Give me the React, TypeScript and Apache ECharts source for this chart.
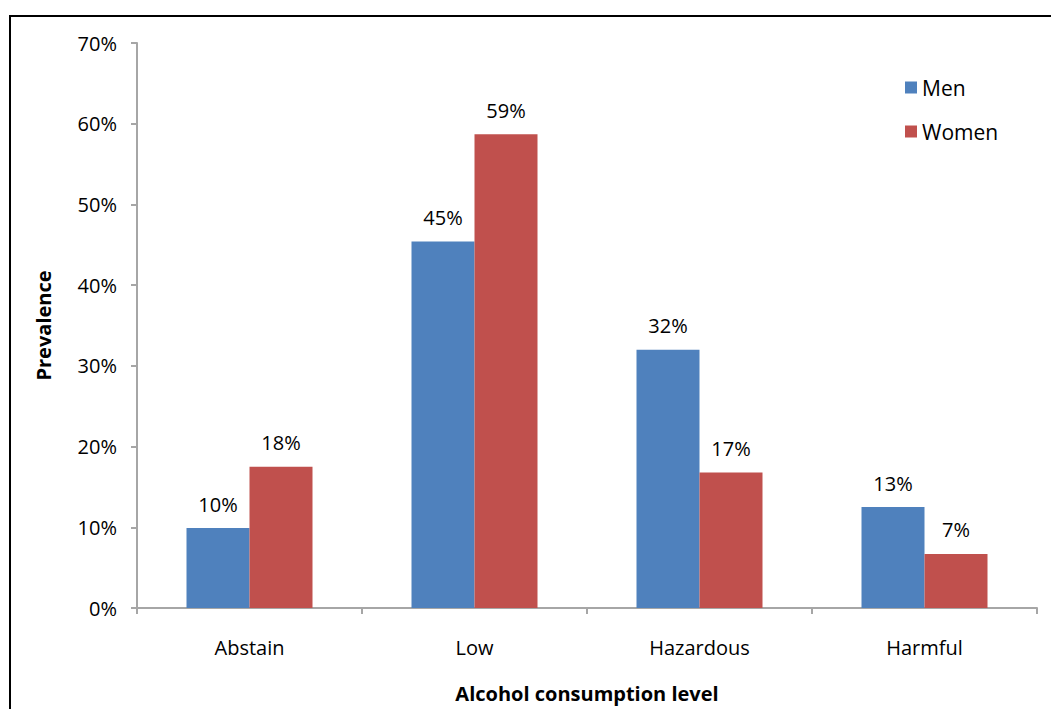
import React, { useEffect, useRef } from "react";
import * as echarts from "echarts";

const categories = ["Abstain", "Low", "Hazardous", "Harmful"];
const menValues = [9.9, 45.4, 32.0, 12.5];
const womenValues = [17.5, 58.7, 16.8, 6.7];
const yTicks = [0, 10, 20, 30, 40, 50, 60, 70];

const FONT = "'Open Sans', 'Noto Sans', sans-serif";

export default function App() {
  const ref = useRef<HTMLDivElement>(null);

  useEffect(() => {
    if (!ref.current) return;
    const chart = echarts.init(ref.current, undefined, { renderer: "svg" });
    const labelCfg = {
      show: true,
      position: "top",
      distance: 14,
      color: "#000",
      fontFamily: FONT,
      fontSize: 20,
      formatter: (p: any) => `${Math.round(p.value)}%`,
    };
    chart.setOption({
      animation: false,
      backgroundColor: "#fff",
      textStyle: { fontFamily: FONT },
      grid: { left: 137, right: 14, top: 43, bottom: 101 },
      legend: {
        orient: "vertical",
        left: 900,
        top: 72,
        itemWidth: 12,
        itemHeight: 12,
        itemGap: 23,
        icon: "rect",
        textStyle: { fontFamily: FONT, fontSize: 21, color: "#000" },
        data: ["Men", "Women"],
      },
      xAxis: {
        type: "category",
        data: categories,
        name: "Alcohol consumption level",
        nameLocation: "middle",
        nameGap: 75,
        nameTextStyle: { fontFamily: FONT, fontSize: 20, fontWeight: "bold", color: "#000" },
        axisLine: { lineStyle: { color: "#a6a6a6", width: 2 } },
        axisTick: { show: true, length: 6, lineStyle: { color: "#a6a6a6", width: 2 } },
        axisLabel: { margin: 29, fontFamily: FONT, fontSize: 20, color: "#000" },
      },
      yAxis: {
        type: "value",
        min: 0,
        max: 70,
        interval: 10,
        name: "Prevalence",
        nameLocation: "middle",
        nameGap: 84,
        nameTextStyle: { fontFamily: FONT, fontSize: 20, fontWeight: "bold", color: "#000" },
        splitLine: { show: false },
        axisLine: { show: true, lineStyle: { color: "#a6a6a6", width: 2 } },
        axisTick: { show: true, length: 6, lineStyle: { color: "#a6a6a6", width: 2 } },
        axisLabel: {
          margin: 20,
          fontFamily: FONT,
          fontSize: 20,
          color: "#000",
          formatter: (v: number) => (yTicks.includes(v) ? `${v}%` : ""),
        },
      },
      series: [
        {
          name: "Men",
          type: "bar",
          data: menValues,
          barGap: "0%",
          barCategoryGap: "44%",
          itemStyle: { color: "#4f81bd" },
          label: labelCfg,
        },
        {
          name: "Women",
          type: "bar",
          data: womenValues,
          barGap: "0%",
          barCategoryGap: "44%",
          itemStyle: { color: "#c0504d" },
          label: labelCfg,
        },
      ],
      graphic: [
        {
          type: "polyline",
          shape: { points: [[10, 760], [10, 16], [1100, 16]] },
          style: { stroke: "#000", lineWidth: 2, fill: "none" },
          silent: true,
        },
      ],
    });
    return () => chart.dispose();
  }, []);

  return (
    <div
      ref={ref}
      style={{ position: "fixed", left: 0, top: 0, width: 1051, height: 709 }}
    />
  );
}
